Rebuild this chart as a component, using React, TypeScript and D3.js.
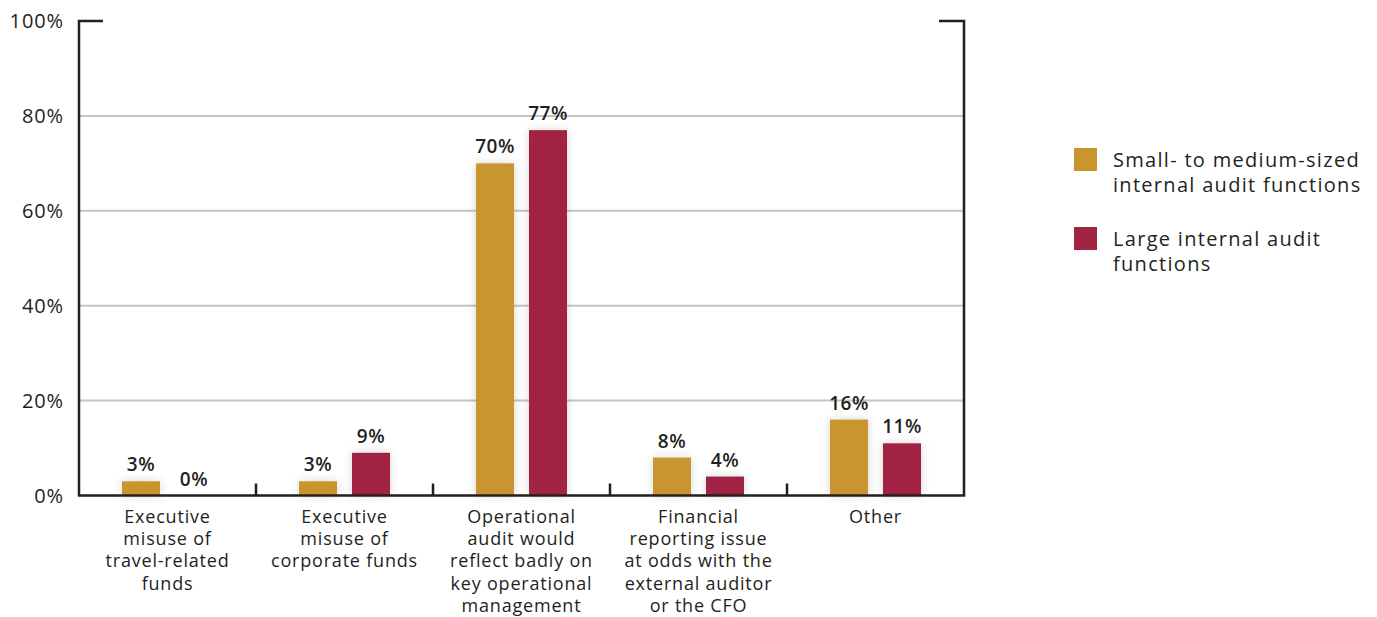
import React from "react";
import * as d3 from "d3";

const categories: string[][] = [
  ["Executive", "misuse of", "travel-related", "funds"],
  ["Executive", "misuse of", "corporate funds"],
  ["Operational", "audit would", "reflect badly on", "key operational", "management"],
  ["Financial", "reporting issue", "at odds with the", "external auditor", "or the CFO"],
  ["Other"],
];
const seriesNames: string[][] = [
  ["Small- to medium-sized", "internal audit functions"],
  ["Large internal audit", "functions"],
];
const smallMedium = [3, 3, 70, 8, 16];
const large = [0, 9, 77, 4, 11];
const yTicks = [0, 20, 40, 60, 80, 100];
const colors = ["#C9952D", "#A12442"];

const FONT = "'Open Sans', 'Noto Sans', sans-serif";
const TEXT = "#231F20";

export default function App() {
  const left = 79, right = 964, top = 21, bottom = 495.5;
  const x = d3.scaleBand<number>().domain(d3.range(categories.length)).range([left, right]);
  const y = d3.scaleLinear().domain([0, 100]).range([bottom, top]);
  const series = [smallMedium, large];
  const bw = 38;
  const offsets = [-26.5, 26.5];

  return (
    <svg width={1377} height={617} style={{ position: "absolute", left: 0, top: 0, background: "#fff" }} fontFamily={FONT}>
      <defs>
        <filter id="sh" x="-50%" y="-50%" width="200%" height="200%">
          <feDropShadow dx="0" dy="0" stdDeviation="5" floodColor="#000" floodOpacity="0.16" />
        </filter>
      </defs>
      {yTicks.filter(t => t > 0 && t < 100).map(t => (
        <line key={t} x1={left} x2={right} y1={y(t)} y2={y(t)} stroke="#C4C4C4" strokeWidth={2} />
      ))}
      {yTicks.map(t => (
        <text key={t} x={64} y={y(t)} dy="0.35em" textAnchor="end" fontSize={20} letterSpacing={0.9} fill={TEXT}>{t}%</text>
      ))}
      {categories.map((_, i) => (
        <g key={i}>
          {series.map((s, j) => {
            const cx = (x(i) as number) + x.bandwidth() / 2 + offsets[j];
            const v = s[i];
            return (
              <g key={j}>
                {v > 0 && (
                  <rect x={cx - bw / 2} y={y(v)} width={bw} height={bottom - y(v)} fill={colors[j]} filter="url(#sh)" />
                )}
                <text x={cx} y={y(v) - 10} textAnchor="middle" fontSize={19} fontWeight={600} letterSpacing={0.5} fill={TEXT}>{v}%</text>
              </g>
            );
          })}
        </g>
      ))}
      <path d={`M${left + 24},${top} H${left} V${bottom} H${right} V${top} H${right - 25}`} fill="none" stroke={TEXT} strokeWidth={2.5} />
      {categories.slice(1).map((_, i) => {
        const bx = x(i + 1) as number;
        return <line key={i} x1={bx} x2={bx} y1={bottom} y2={bottom - 12} stroke={TEXT} strokeWidth={2.5} />;
      })}
      {categories.map((lines, i) => (
        <text key={i} x={(x(i) as number) + x.bandwidth() / 2} y={523} textAnchor="middle" fontSize={18} letterSpacing={0.8} fill={TEXT}>
          {lines.map((l, k) => (
            <tspan key={k} x={(x(i) as number) + x.bandwidth() / 2} dy={k === 0 ? 0 : 22.2}>{l}</tspan>
          ))}
        </text>
      ))}
      {seriesNames.map((lines, j) => (
        <g key={j} transform={`translate(1074, ${148 + j * 79})`}>
          <rect x={0} y={0} width={23} height={23} fill={colors[j]} />
          <text x={39} y={19} fontSize={20} letterSpacing={1.3} fill={TEXT}>
            {lines.map((l, k) => (
              <tspan key={k} x={39} dy={k === 0 ? 0 : 25}>{l}</tspan>
            ))}
          </text>
        </g>
      ))}
    </svg>
  );
}
